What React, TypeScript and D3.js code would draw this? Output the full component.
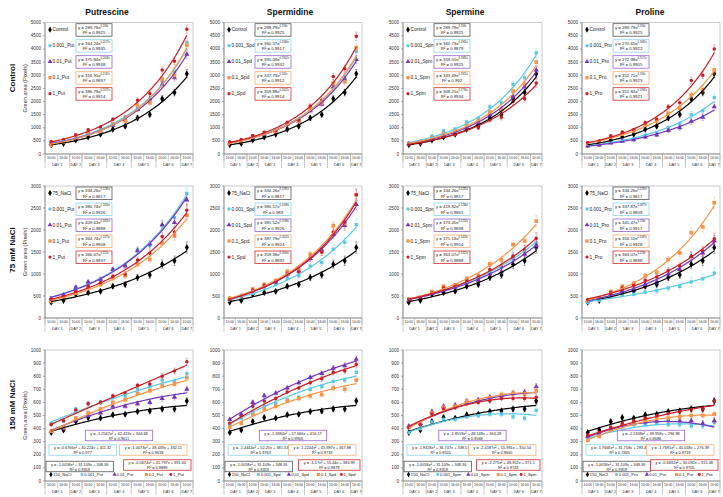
import React from "react";
import * as d3 from "d3";

const times = ["10:00","16:00","10:00","10:00","16:00","10:00","16:00","10:00","16:00","10:00","16:00","10:00"];
const dayLabels = ["DAY 1","DAY 2","DAY 3","DAY 4","DAY 5","DAY 6","DAY 7"];
const daySpans = [2,1,2,2,2,2,1];
const compounds = ["Putrescine","Spermidine","Spermine","Proline"];
const abbrevs = ["Put","Spd","Spm","Pro"];
const conditions = ["Control","75 mM NaCl","150 mM NaCl"];
const controlNames = ["Control","75_NaCl","150_NaCl"];
const doses = ["0.001","0.01","0.1","1"];

// ---- Control row (0 mM) ----
const ctrl0 = [350,400,530,650,750,940,1060,1370,1500,2100,2340,3060];
const put0 = [
  [420,480,650,800,900,1150,1300,1800,2000,2800,3150,4250],
  [400,460,620,760,860,1100,1300,1700,2100,2650,2900,3800],
  [340,450,650,800,850,1150,1250,1850,1950,2850,3000,4150],
  [470,540,730,920,1030,1320,1400,2050,2300,3200,3530,4750],
];
const spd0 = [
  [440,500,650,780,880,1150,1300,1700,1950,2650,2850,3900],
  [420,490,640,760,850,1120,1250,1650,1900,2550,2850,3600],
  [400,470,670,790,860,1150,1250,1700,1950,2700,2750,4050],
  [460,550,700,830,900,1200,1300,1830,2050,2950,3250,4480],
];
const spm0 = [
  [420,480,680,880,950,1220,1350,1800,1950,2650,2900,3850],
  [390,450,590,750,800,1000,1150,1500,1700,2200,2550,3200],
  [400,460,620,780,870,1100,1250,1600,1700,2400,2650,3500],
  [360,400,560,680,740,950,1000,1300,1400,2000,2100,2700],
];
const pro0 = [
  [330,360,450,530,580,720,800,1000,1150,1500,1650,2150],
  [310,340,420,490,540,650,720,900,1000,1250,1400,1800],
  [400,460,650,760,880,1100,1250,1550,1750,2250,2450,3200],
  [430,490,690,840,920,1200,1320,1800,1950,2800,3000,4000],
];
// ---- 75 mM NaCl ----
const ctrl75 = [360,400,540,580,610,720,760,920,980,1220,1300,1600];
const put75 = [
  [460,530,700,800,880,1100,1200,1550,1650,2100,2280,2830],
  [440,520,690,820,880,1100,1180,1530,1680,2120,2170,2680],
  [380,450,570,710,760,900,960,1220,1330,1700,1870,2330],
  [420,480,610,720,800,950,1000,1320,1470,1850,1950,2450],
];
const spd75 = [
  [400,460,560,700,760,900,960,1180,1260,1560,1720,2120],
  [430,500,620,740,820,1000,1070,1350,1550,1900,2100,2580],
  [450,500,660,760,850,1060,1100,1450,1500,2100,2150,2800],
  [420,490,630,740,830,1000,1050,1370,1500,1950,2180,2800],
];
const spm75 = [
  [420,460,570,670,720,830,900,1050,1150,1400,1500,1700],
  [400,450,560,650,700,800,860,1000,1050,1350,1450,1650],
  [430,470,600,720,750,900,970,1230,1320,1670,1750,2200],
  [420,450,570,680,740,850,920,1100,1180,1400,1550,1810],
];
const pro75 = [
  [350,400,480,520,540,590,620,680,720,820,890,1020],
  [390,440,540,620,650,760,820,1000,1100,1400,1480,1750],
  [400,460,600,720,790,960,1040,1330,1480,1940,2070,2620],
  [420,460,580,680,740,860,930,1080,1180,1400,1520,1800],
];
// ---- 150 mM NaCl ----
const ctrl150 = [370,390,455,485,480,505,510,530,535,550,550,610];
const put150 = [
  [440,460,550,590,600,640,650,700,720,770,760,820],
  [380,400,470,500,520,570,570,590,600,630,640,700],
  [380,410,480,520,550,600,620,670,690,730,740,790],
  [430,460,540,590,600,650,670,730,740,800,840,910],
];
const spd150 = [
  [430,480,530,570,590,620,640,700,720,760,770,830],
  [470,510,600,650,670,710,750,790,820,860,880,930],
  [410,440,510,550,570,610,630,650,660,710,700,770],
  [440,490,570,610,630,680,710,750,780,830,840,890],
];
const spm150 = [
  [370,400,450,470,470,490,500,510,510,490,480,540],
  [420,440,530,570,580,610,620,640,650,670,680,720],
  [410,440,520,560,570,610,610,630,660,670,660,690],
  [410,430,510,550,560,590,600,610,630,630,630,640],
];
const pro150 = [
  [330,350,400,420,430,430,440,430,430,420,420,450],
  [340,360,400,430,440,450,460,460,460,460,440,460],
  [310,340,390,420,440,470,480,480,490,500,500,510],
  [350,370,410,440,460,480,500,520,530,550,550,610],
];

// error bar half-widths per time point, per row
const errs0 = [25,30,40,50,55,60,65,90,100,120,130,160];
const errs75 = [20,25,35,40,40,50,55,70,80,100,110,130];
const errs150 = [10,12,15,18,15,15,15,18,20,22,22,25];

// exponential trendline labels (a coefficient, R²)
const ctrlEq0 = ["289.79","0.9925"];
const ctrlEq75 = ["334.26","0.9817"];
const expA0 = [["364.24","375.84","316.91","386.79"],["360.37","391.08","337.73","359.88"],["360.73","359.01","343.49","308.21"],["270.65","272.98","352.71","351.84"]];
const expR0 = [["0.9935","0.9938","0.9897","0.9914"],["0.9917","0.9932","0.9912","0.9914"],["0.9879","0.9925","0.992","0.9934"],["0.9922","0.9905","0.9923","0.9921"]];
const expA75 = [["380.74","409.63","364.74","366.67"],["380.57","381.52","387.79","359.38"],["419.82","373.45","371.13","363.07"],["337.87","341.47","356.51","363.07"]];
const expR75 = [["0.9926","0.9888","0.9908","0.9937"],["0.989","0.9926","0.9924","0.9892"],["0.9861","0.9898","0.9914","0.9888"],["0.9809","0.9917","0.9928","0.9888"]];

// polynomial trendline labels (150 mM): [x² coef, x coef, intercept]
const ctrlQuad = [-1.0058, 31.109, 348.36];
const ctrlQuadR = "0.9359";
const quad150 = [
  [[-0.6766,40.224,411.32],[-1.2567,42.433,344.68],[-1.0073,48.439,332.11],[-0.0674,41.797,391.64]],
  [[-1.4444,52.25,381.53],[-1.3384,57.666,416.17],[-1.2244,45.987,367.88],[-1.17,55.44,383.99]],
  [[-1.9328,36.747,338.51],[-1.8518,48.148,364.28],[-2.4187,55.991,350.54],[-2.275,48.952,371.1]],
  [[-1.7666,31.758,293.43],[-2.5338,39.958,296.98],[-1.7691,40.058,276.39],[-0.6832,30.092,315.48]],
];
const quadR150 = [["0.977","0.9611","0.9633","0.9889"],["0.9763","0.9905","0.9733","0.9879"],["0.8555","0.9568","0.9665","0.9743"],["0.7835","0.8686","0.9719","0.9705"]];

const colors = ["#000000","#5cc8e6","#7535b8","#f7954a","#cc1d24"];
const boxColors = ["#555555","#8fd6ea","#9566cc","#f7b07a","#d03030"];
const symbols = [d3.symbolDiamond, d3.symbolSquare, d3.symbolTriangle, d3.symbolSquare, d3.symbolCircle];
const symSizes = [14, 11, 12, 14, 10];

const FONT = "Liberation Sans, Arial, sans-serif";
const cols = [{l:45,r:193},{l:224,r:362},{l:403,r:542},{l:582,r:720}];
const rows = [{t:22.7,b:154,max:5000,step:500},{t:186,b:318,max:3000,step:500},{t:350,b:481,max:1000,step:100}];

const ctrls = [ctrl0, ctrl75, ctrl150];
const panelData = [[put0,spd0,spm0,pro0],[put75,spd75,spm75,pro75],[put150,spd150,spm150,pro150]];
const errsByRow = [errs0, errs75, errs150];
const titleX = [107, 290, 465, 650];
const rowLabelY = [78, 250, 405];

function expFit(ys: number[]) {
  const xs = ys.map((_, i) => i + 1);
  const ly = ys.map(v => Math.log(v));
  const mx = d3.mean(xs)!, my = d3.mean(ly)!;
  let sxy = 0, sxx = 0;
  xs.forEach((x, i) => { sxy += (x - mx) * (ly[i] - my); sxx += (x - mx) * (x - mx); });
  const b = sxy / sxx;
  const a = Math.exp(my - b * mx);
  return { a, b };
}

const fmtExp = d3.format(".4~f");

function Panel({ ri, ci }: { ri: number; ci: number }) {
  const col = cols[ci], row = rows[ri];
  const x = d3.scaleBand<number>().domain(d3.range(12)).range([col.l, col.r]);
  const bw = x.bandwidth();
  const y = d3.scaleLinear().domain([0, row.max]).range([row.b, row.t]);
  const series = [ctrls[ri], ...panelData[ri][ci]];
  const errs = errsByRow[ri];
  const names = [controlNames[ri], ...doses.map(d => `${d}_${abbrevs[ci]}`)];
  const xk = (k: number) => col.l + (k - 0.5) * bw;
  const ticks = d3.range(0, row.max + 1, row.step);
  const ks = d3.range(1, 12.001, 0.1);

  const curves = series.map((s, si) => {
    let f: (k: number) => number;
    if (ri < 2) {
      const { a, b } = expFit(s);
      f = k => a * Math.exp(b * k);
    } else {
      const c = si === 0 ? ctrlQuad : quad150[ci][si - 1];
      f = k => c[0] * k * k + c[1] * k + c[2];
    }
    return d3.line<number>().x(k => xk(k)).y(k => y(f(k)))(ks) || "";
  });

  const bounds: number[] = [0];
  daySpans.reduce((acc, n) => { bounds.push(acc + n); return acc + n; }, 0);

  const plotW = col.r - col.l;

  const quadBoxes = d3.range(5).map(si => {
    const c = si === 0 ? ctrlQuad : quad150[ci][si - 1];
    const r2 = si === 0 ? ctrlQuadR : quadR150[ci][si - 1];
    const l1 = `y = ${c[0]}x² + ${c[1]}x + ${c[2]}`;
    const l2 = `R² = ${r2}`;
    const w = l1.length * 1.98 + 4;
    const h = 10.5;
    let bx = 0, cy = 0;
    if (si === 0) { bx = col.l + 1; cy = row.b - 14.5; }
    else if (si === 4) { bx = col.r - 2 - w; cy = row.b - 16; }
    else if (si === 1) { bx = col.l + 4; cy = row.b - 31; }
    else if (si === 3) { bx = col.r - 6 - w; cy = row.b - 31; }
    else { bx = col.l + 0.5 * plotW - w / 2; cy = row.b - 45.5; }
    return { si, l1, l2, w, h, bx, cy };
  });

  return (
    <g>
      <rect x={col.l} y={row.t} width={plotW} height={row.b - row.t} fill="white" stroke="#a8a8a8" strokeWidth={0.6} />
      <line x1={col.l} x2={col.l} y1={row.t} y2={row.b} stroke="#777" strokeWidth={0.7} />
      {ticks.map(t => (
        <g key={t}>
          <line x1={col.l - 2} x2={col.l} y1={y(t)} y2={y(t)} stroke="#777" strokeWidth={0.6} />
          <text x={col.l - 4} y={y(t) + 1.5} fontSize={4.6} textAnchor="end" fill="#333" fontFamily={FONT}>{t}</text>
        </g>
      ))}
      <line x1={col.l} x2={col.r} y1={row.b} y2={row.b} stroke="#777" strokeWidth={0.7} />
      {d3.range(13).map(i => (
        <line key={"c" + i} x1={col.l + i * bw} x2={col.l + i * bw} y1={row.b} y2={row.b + 7} stroke="#999" strokeWidth={0.5} />
      ))}
      {bounds.map((b, i) => (
        <line key={"d" + i} x1={col.l + b * bw} x2={col.l + b * bw} y1={row.b} y2={row.b + 14} stroke="#999" strokeWidth={0.5} />
      ))}
      {times.map((t, i) => (
        <text key={"t" + i} x={(x(i) as number) + bw / 2} y={row.b + 5.2} fontSize={3.4} textAnchor="middle" fill="#333" fontFamily={FONT}>{t}</text>
      ))}
      {dayLabels.map((d, i) => (
        <text key={"dl" + i} x={col.l + ((bounds[i] + bounds[i + 1]) / 2) * bw} y={row.b + 12.3} fontSize={3.8} textAnchor="middle" fill="#333" fontFamily={FONT}>{d}</text>
      ))}
      {series.map((s, si) => (
        <g key={"s" + si}>
          {s.map((v, i) => {
            const cx = (x(i) as number) + bw / 2;
            const e = errs[i];
            return (
              <g key={i}>
                <line x1={cx} x2={cx} y1={y(v - e)} y2={y(v + e)} stroke={colors[si]} strokeOpacity={0.55} strokeWidth={0.6} />
                <line x1={cx - 1.3} x2={cx + 1.3} y1={y(v + e)} y2={y(v + e)} stroke={colors[si]} strokeOpacity={0.55} strokeWidth={0.5} />
                <line x1={cx - 1.3} x2={cx + 1.3} y1={y(v - e)} y2={y(v - e)} stroke={colors[si]} strokeOpacity={0.55} strokeWidth={0.5} />
                <path d={d3.symbol().type(symbols[si]).size(symSizes[si])() || ""} transform={`translate(${cx},${y(v)})`} fill={colors[si]} />
              </g>
            );
          })}
        </g>
      ))}
      {curves.map((c, si) => (
        <path key={"c" + si} d={c} fill="none" stroke={colors[si]} strokeWidth={1.2} />
      ))}
      {ri < 2 ? (
        names.map((n, si) => {
          const ly = row.t + 7 + 16 * si;
          const a = si === 0 ? (ri === 0 ? ctrlEq0[0] : ctrlEq75[0]) : (ri === 0 ? expA0 : expA75)[ci][si - 1];
          const r2 = si === 0 ? (ri === 0 ? ctrlEq0[1] : ctrlEq75[1]) : (ri === 0 ? expR0 : expR75)[ci][si - 1];
          const { b } = expFit(series[si]);
          const bx = col.l + 31;
          return (
            <g key={"lg" + si}>
              <path d={d3.symbol().type(symbols[si]).size(symSizes[si] * 0.8)() || ""} transform={`translate(${col.l + 5},${ly})`} fill={colors[si]} />
              <text x={col.l + 7.5} y={ly + 1.7} fontSize={4.8} fill="#222" fontFamily={FONT}>{n}</text>
              <rect x={bx} y={ly - 6} width={36} height={12.5} fill="white" stroke={boxColors[si]} strokeWidth={0.8} />
              <text x={bx + 2} y={ly - 0.8} fontSize={4.3} fill="#222" fontFamily={FONT}>
                {`y = ${a}e`}
                <tspan fontSize={2.6} dy={-1.8}>{`${fmtExp(b)}x`}</tspan>
              </text>
              <text x={bx + 18} y={ly + 4.6} fontSize={4.3} fill="#222" textAnchor="middle" fontFamily={FONT}>{`R² = ${r2}`}</text>
            </g>
          );
        })
      ) : (
        <g>
          {names.map((n, si) => {
            const fr = [0.04, 0.25, 0.47, 0.685, 0.85][si];
            const lx = col.l + fr * plotW;
            const ly = row.b - 6.5;
            return (
              <g key={"lg" + si}>
                <path d={d3.symbol().type(symbols[si]).size(symSizes[si] * 0.65)() || ""} transform={`translate(${lx},${ly})`} fill={colors[si]} />
                <text x={lx + 2.3} y={ly + 1.5} fontSize={4.1} fill="#222" fontFamily={FONT}>{n}</text>
              </g>
            );
          })}
          {quadBoxes.map(q => (
            <g key={"qb" + q.si}>
              <rect x={q.bx} y={q.cy - q.h / 2} width={q.w} height={q.h} fill="white" stroke={boxColors[q.si]} strokeWidth={0.8} />
              <text x={q.bx + q.w / 2} y={q.cy - 0.6} fontSize={3.9} textAnchor="middle" fill="#222" fontFamily={FONT}>{q.l1}</text>
              <text x={q.bx + q.w / 2} y={q.cy + 4} fontSize={3.9} textAnchor="middle" fill="#222" fontFamily={FONT}>{q.l2}</text>
            </g>
          ))}
        </g>
      )}
    </g>
  );
}

export default function App() {
  return (
    <div style={{ position: "fixed", left: 0, top: 0 }}>
      <svg width={723} height={497} style={{ display: "block", background: "white" }}>
        {compounds.map((c, ci) => (
          <text key={c} x={titleX[ci]} y={15} fontSize={8.5} fontWeight="bold" textAnchor="middle" fontFamily={FONT} fill="#111">{c}</text>
        ))}
        {conditions.map((c, ri) => (
          <text key={c} transform={`translate(15,${rowLabelY[ri]}) rotate(-90)`} fontSize={8} fontWeight="bold" textAnchor="middle" fontFamily={FONT} fill="#111">{c}</text>
        ))}
        {rows.map((row, ri) => (
          <text key={"yt" + ri} transform={`translate(27,${(row.t + row.b) / 2}) rotate(-90)`} fontSize={5.6} textAnchor="middle" fontFamily={FONT} fill="#333">Green area (Pixels)</text>
        ))}
        {rows.map((_, ri) => cols.map((_, ci) => <Panel key={ri + "-" + ci} ri={ri} ci={ci} />))}
      </svg>
    </div>
  );
}
